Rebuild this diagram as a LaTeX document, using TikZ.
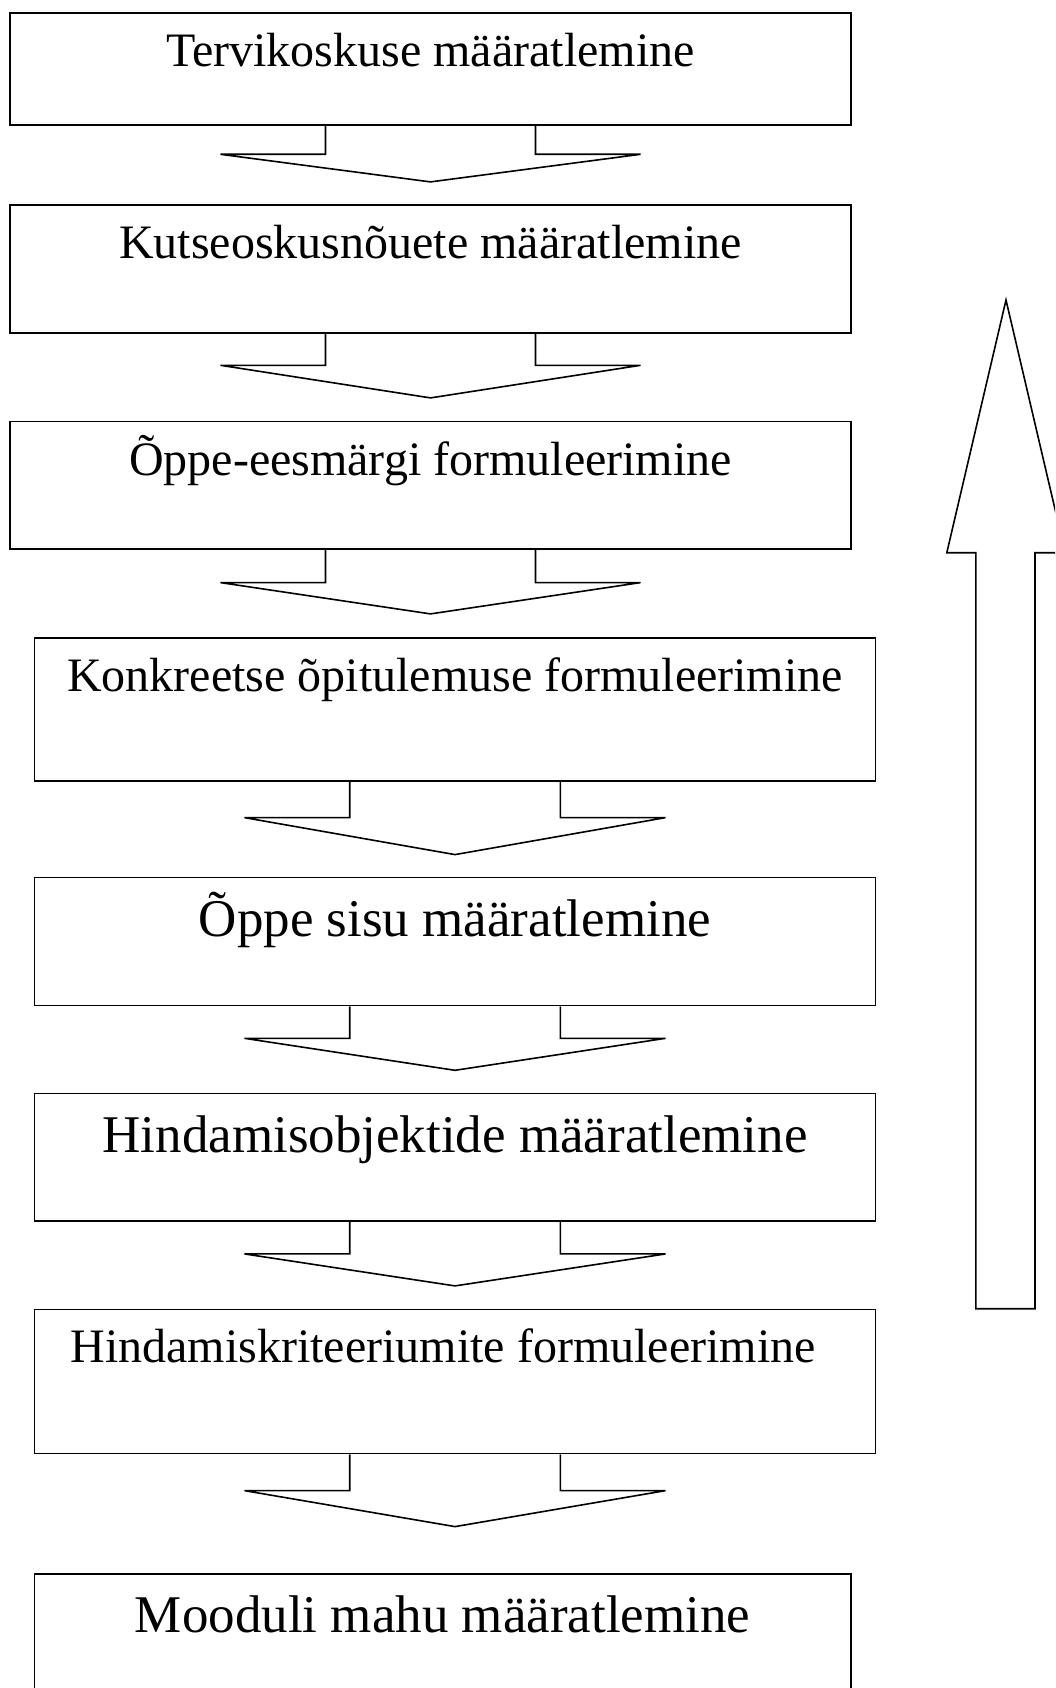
\documentclass[tikz,border=0pt]{standalone}
\usepackage{fontspec}
\setmainfont{Liberation Serif}
\usetikzlibrary{calc}
\newcommand\blkarrow[5]{% #1 source box, #2 half stem width, #3 stem length, #4 head length, #5 tip name
  \draw[blk] ($(#1.south)+(-#2,0)$) -- ++(0,#3) -- ++(-#2,0) -- ++(2*#2,#4) coordinate (#5)
    -- ++(2*#2,-#4) -- ++(-#2,0) -- ++(0,-#3);}
\begin{document}
\begin{tikzpicture}[x=1pt,y=-1pt,
  stepbox/.style={draw, line width=1.6pt, inner sep=0pt, anchor=north west},
  smalltxt/.style={anchor=base, inner sep=0pt, font=\fontsize{48}{58}\selectfont},
  bigtxt/.style={anchor=base, inner sep=0pt, font=\fontsize{53}{64}\selectfont},
  blk/.style={draw, line width=1.6pt, line join=miter}]
\useasboundingbox (0,0) rectangle (1055,1688);
\clip (0,0) rectangle (1055,1688);

\node[stepbox, minimum width=840.6pt, minimum height=112pt]   (b1) at (9.4,12.3) {};
\node[stepbox, minimum width=840.6pt, minimum height=128pt]   (b2) at (9.4,204.3) {};
\node[stepbox, minimum width=840.6pt, minimum height=127.6pt] (b3) at (9.4,420.7) {};
\node[stepbox, minimum width=841.2pt, minimum height=143.3pt] (b4) at (33.6,637) {};
\node[stepbox, minimum width=841.2pt, minimum height=128pt]   (b5) at (33.6,876.7) {};
\node[stepbox, minimum width=841.2pt, minimum height=127.6pt] (b6) at (33.6,1092.7) {};
\node[stepbox, minimum width=841.2pt, minimum height=144pt]   (b7) at (33.6,1308.7) {};
\node[stepbox, minimum width=816.4pt, minimum height=200pt]   (b8) at (33.6,1573.3) {};

\node[smalltxt] (t1) at ($(b1.north)+(0,54.5)$) {Tervikoskuse määratlemine};
\node[smalltxt] (t2) at ($(b2.north)+(0,54.5)$) {Kutseoskusnõuete määratlemine};
\node[smalltxt] (t3) at ($(b3.north)+(0,54.5)$) {Õppe-eesmärgi formuleerimine};
\node[smalltxt] (t4) at ($(b4.north)+(0,54.5)$) {Konkreetse õpitulemuse formuleerimine};
\node[bigtxt]   (t5) at ($(b5.north)+(0,59.5)$) {Õppe sisu määratlemine};
\node[bigtxt]   (t6) at ($(b6.north)+(0,59.5)$) {Hindamisobjektide määratlemine};
\node[smalltxt] (t7) at ($(b7.north)+(-12,53.5)$) {Hindamiskriteeriumite formuleerimine};
\node[bigtxt]   (t8) at ($(b8.north)+(0,59.5)$) {Mooduli mahu määratlemine};

\blkarrow{b1}{105}{28.4}{27.6}{p1}
\blkarrow{b2}{105}{31.4}{32.6}{p2}
\blkarrow{b3}{105}{32.7}{31.3}{p3}
\blkarrow{b4}{105.3}{35.7}{37}{p4}
\blkarrow{b5}{105.3}{32}{32}{p5}
\blkarrow{b6}{105.3}{32}{32}{p6}
\blkarrow{b7}{105.3}{36.3}{36}{p7}

% large upward arrow
\coordinate (ubase) at (1005.4,1308.7);
\coordinate (utip) at (1006,300);
\draw[blk] (975.8,1308.7) -- (975.8,552.7) -- (946.8,552.7) -- (utip)
  -- (1065.2,552.7) -- (1035,552.7) -- (1035,1308.7) -- cycle;
\end{tikzpicture}
\end{document}
